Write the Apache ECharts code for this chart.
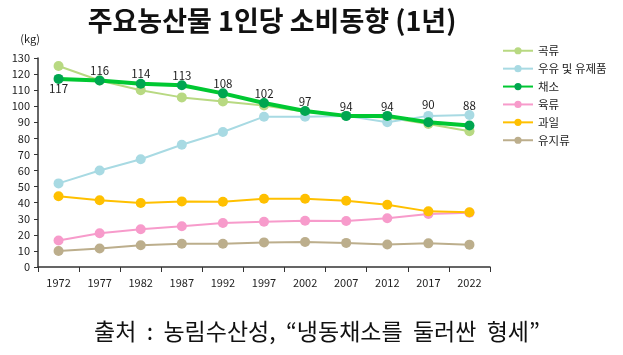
<!DOCTYPE html>
<html><head><meta charset="utf-8">
<script src="https://cdn.jsdelivr.net/npm/echarts@6/dist/echarts.min.js"></script>
<style>html,body{margin:0;padding:0;background:#fff}#c{width:623px;height:355px}</style>
</head><body><div id="c"></div>
<script>
const years = ['1972','1977','1982','1987','1992','1997','2002','2007','2012','2017','2022'];
const grains = [125, 116, 110, 105.5, 103, 100.5, 96.5, 94, 93, 89, 84.5];
const milk = [52, 60, 67, 76, 84, 93.5, 93.5, 94, 90, 94, 94.5];
const vegetables = [117, 116, 114, 113, 108, 102, 97, 94, 94, 90, 88];
const meat = [16.5, 21, 23.5, 25.3, 27.4, 28.2, 28.8, 28.6, 30.3, 33, 33.8];
const fruit = [44, 41.5, 39.8, 40.8, 40.6, 42.5, 42.5, 41.2, 38.7, 34.6, 34];
const oils = [10, 11.5, 13.5, 14.5, 14.5, 15.3, 15.5, 15, 14, 14.7, 13.9];
const names = ['곡류','우유 및 유제품','채소','육류','과일','유지류'];
const yTicks = [0,130,10];

const font = "'Noto Sans CJK KR', 'Noto Sans', sans-serif";
function mk(name, data, color, w, mcolor, extra) {
  return Object.assign({
    name, type: 'line', data, symbol: 'circle', symbolSize: 10,
    lineStyle: { color, width: w }, itemStyle: { color: mcolor || color },
    animation: false
  }, extra || {});
}
const chart = echarts.init(document.getElementById('c'));
chart.setOption({
  backgroundColor: '#fff',
  textStyle: { fontFamily: font },
  title: [
    { text: '주요농산물 1인당 소비동향 (1년)', left: 267, top: 2, textAlign: 'center',
      textStyle: { fontSize: 27, fontWeight: 'bold', color: '#111', fontFamily: font } },
    { text: '출처  :  농림수산성,  “냉동채소를  둘러싼  형세”', left: 312, top: 315, textAlign: 'center',
      textStyle: { fontSize: 23, fontWeight: 'normal', color: '#111', fontFamily: font } }
  ],
  legend: {
    orient: 'vertical', left: 497, top: 40, itemGap: 6.4, itemWidth: 30, itemHeight: 9,
    textStyle: { fontSize: 11.5, color: '#222' }, data: names
  },
  grid: { left: 38, right: 133, top: 58, bottom: 88 },
  xAxis: {
    type: 'category', data: years, boundaryGap: true,
    axisLine: { lineStyle: { color: '#333', width: 1.5 } },
    axisTick: { show: true, alignWithLabel: false, length: 5, lineStyle: { color: '#333' } },
    axisLabel: { fontSize: 11, color: '#222', margin: 10 }
  },
  yAxis: {
    type: 'value', min: yTicks[0], max: yTicks[1], interval: yTicks[2],
    name: '(kg)', nameLocation: 'end', nameGap: 14,
    nameTextStyle: { fontSize: 11, color: '#222', align: 'right', padding: [0, -2, 0, 0] },
    axisLine: { show: true, lineStyle: { color: '#333', width: 1.5 } },
    axisTick: { show: true, length: 4, lineStyle: { color: '#333' } },
    axisLabel: { fontSize: 11, color: '#222', margin: 8 },
    splitLine: { show: false }
  },
  series: [
    mk(names[0], grains, '#B8D982', 2, '#B8D982'),
    mk(names[1], milk, '#A8DAE3', 2, '#A8DAE3'),
    mk(names[3], meat, '#F79BCB', 2, '#F79BCB'),
    mk(names[4], fruit, '#FFC000', 2, '#FFC000'),
    mk(names[5], oils, '#BCAE8C', 2, '#BCAE8C'),
    mk(names[2], vegetables, '#00C832', 4, '#00A650', {
      z: 5,
      label: { show: true, position: 'top', distance: -1, fontSize: 11.5, color: '#222' },
      data: vegetables.map((v, i) => {
        if (i === 0) return { value: v, label: { position: 'bottom', distance: -1 } };
        if (i === 9) return { value: v, label: { distance: 7 } };
        if (i === 10) return { value: v, label: { distance: 9 } };
        return v;
      })
    })
  ]
});
</script></body></html>
